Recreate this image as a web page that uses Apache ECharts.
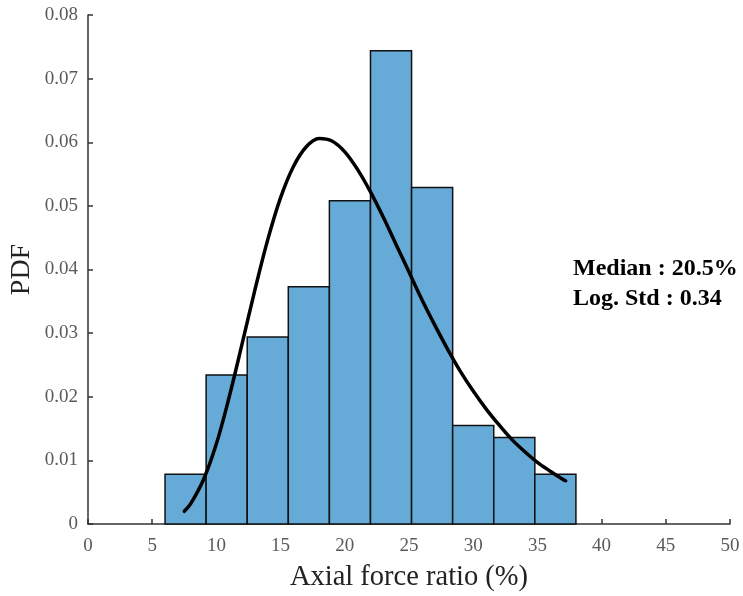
<!DOCTYPE html>
<html>
<head>
<meta charset="utf-8">
<script src="https://cdn.jsdelivr.net/npm/echarts@6/dist/echarts.min.js"></script>
<style>
  html, body { margin: 0; padding: 0; background: #fff; }
  #chart { width: 743px; height: 596px; }
</style>
</head>
<body>
<div id="chart"></div>
<script>
// Histogram bin edges (axial force ratio, %) and probability densities
var binEdges = [6.0, 9.2, 12.4, 15.6, 18.8, 22.0, 25.2, 28.4, 31.6, 34.8, 38.0];
var binDensity = [0.0078, 0.0234, 0.0294, 0.0373, 0.0508, 0.0744, 0.0529, 0.0155, 0.0136, 0.0078];

// Fitted lognormal density curve
var fitX = [7.5, 8, 9, 10, 11, 12, 13, 14, 15, 16, 17, 18, 19, 20, 21, 22, 23, 24, 25,
            26, 27, 28, 29, 30, 31, 32, 33, 34, 35, 36, 37, 37.2];
var fitY = [0.0020, 0.0032, 0.0070, 0.0126, 0.0200, 0.0283, 0.0368, 0.0447, 0.0513, 0.0562,
            0.0593, 0.0606, 0.0602, 0.0585, 0.0557, 0.0522, 0.0482, 0.0439, 0.0396, 0.0353,
            0.0313, 0.0275, 0.0240, 0.0209, 0.0181, 0.0156, 0.0133, 0.0114, 0.0097, 0.0083,
            0.0070, 0.0068];

var xTicks = [0, 5, 10, 15, 20, 25, 30, 35, 40, 45, 50];
var yTicks = [0, 0.01, 0.02, 0.03, 0.04, 0.05, 0.06, 0.07, 0.08];

var statLines = ['Median : 20.5%', 'Log. Std : 0.34'];

var serif = '"Liberation Serif", "Times New Roman", serif';

var histData = binDensity.map(function (d, i) {
  return [binEdges[i], binEdges[i + 1], d];
});
var curveData = fitX.map(function (x, i) { return [x, fitY[i]]; });

var chart = echarts.init(document.getElementById('chart'), null, { renderer: 'canvas' });

chart.setOption({
  animation: false,
  backgroundColor: '#ffffff',
  grid: { left: 88, right: 13, top: 15, bottom: 72, containLabel: false, outerBoundsMode: 'none' },
  xAxis: {
    type: 'value',
    min: xTicks[0],
    max: xTicks[xTicks.length - 1],
    interval: xTicks[1] - xTicks[0],
    name: 'Axial force ratio (%)',
    nameLocation: 'middle',
    nameGap: 39,
    nameMoveOverlap: false,
    nameTextStyle: { fontFamily: serif, fontSize: 28.5, color: '#222' },
    axisLine: { show: true, lineStyle: { color: '#333', width: 1.5 } },
    axisTick: { show: true, inside: true, length: 5, lineStyle: { color: '#333', width: 1.5 } },
    axisLabel: { fontFamily: serif, fontSize: 19, color: '#5a5a5a', margin: 13 },
    splitLine: { show: false }
  },
  yAxis: {
    type: 'value',
    min: yTicks[0],
    max: yTicks[yTicks.length - 1],
    interval: yTicks[1] - yTicks[0],
    name: 'PDF',
    nameLocation: 'middle',
    nameGap: 52,
    nameMoveOverlap: false,
    nameRotate: 90,
    nameTextStyle: { fontFamily: serif, fontSize: 28, color: '#222' },
    axisLine: { show: true, lineStyle: { color: '#333', width: 1.5 } },
    axisTick: { show: true, inside: true, length: 5, lineStyle: { color: '#333', width: 1.5 } },
    axisLabel: {
      fontFamily: serif, fontSize: 19, color: '#5a5a5a', margin: 10,
      formatter: function (v) { return v === 0 ? '0' : v.toFixed(2); }
    },
    splitLine: { show: false }
  },
  series: [
    {
      type: 'custom',
      z: 2,
      data: histData,
      encode: { x: [0, 1], y: 2 },
      renderItem: function (params, api) {
        var p0 = api.coord([api.value(0), api.value(2)]);
        var p1 = api.coord([api.value(1), 0]);
        return {
          type: 'rect',
          shape: { x: p0[0], y: p0[1], width: p1[0] - p0[0], height: p1[1] - p0[1] },
          style: { fill: '#66AAD7', stroke: '#111', lineWidth: 1.5 }
        };
      }
    },
    {
      type: 'line',
      z: 5,
      data: curveData,
      smooth: 0.35,
      showSymbol: false,
      symbol: 'none',
      lineStyle: { color: '#000', width: 3.5, cap: 'round' }
    }
  ],
  graphic: [
    {
      type: 'text',
      left: 573,
      top: 254,
      style: {
        text: statLines.join('\n'),
        fontFamily: serif,
        fontWeight: 'bold',
        fontSize: 24,
        lineHeight: 30,
        fill: '#000'
      }
    }
  ]
});
</script>
</body>
</html>
